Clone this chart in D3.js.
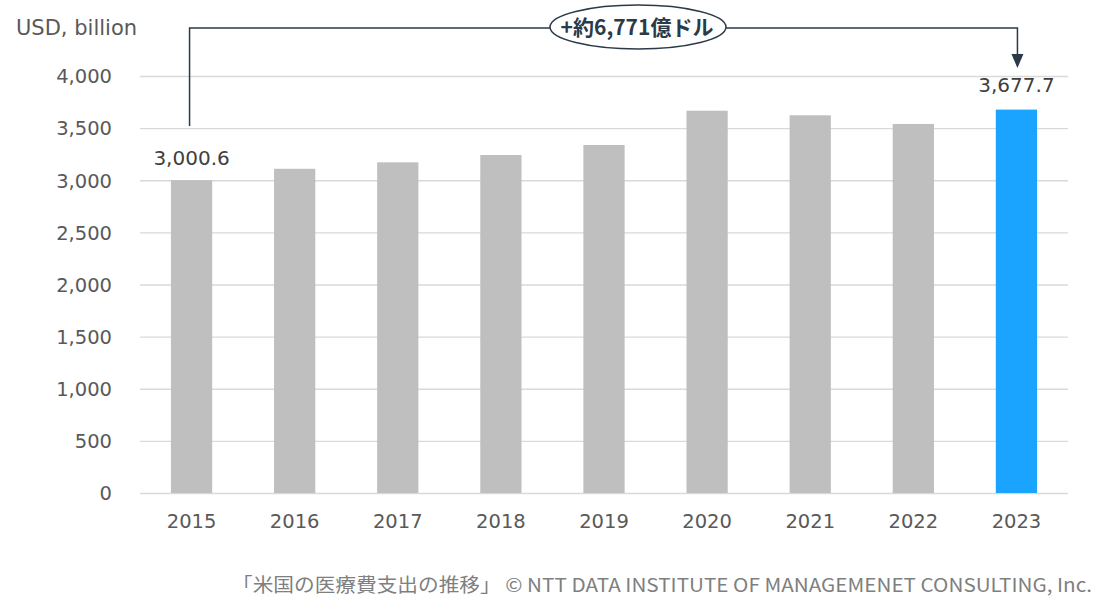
<!DOCTYPE html>
<html><head><meta charset="utf-8">
<script src="https://cdn.jsdelivr.net/npm/d3@7"></script>
<style>body{margin:0;background:#fff}svg{display:block}</style>
</head><body>
<svg id="c" width="1104" height="608"></svg>
<script>
const categories = ["2015","2016","2017","2018","2019","2020","2021","2022","2023"];
const values = [3000.6, 3110, 3172, 3242, 3338, 3667, 3623, 3540, 3677.7];
const yTicks = [0,500,1000,1500,2000,2500,3000,3500,4000];
const unitLabel = "USD, billion";
const calloutText = "+約6,771億ドル";
const footerText = "「米国の医療費支出の推移」 © NTT DATA INSTITUTE OF MANAGEMENET CONSULTING, Inc.";

const svg = d3.select("#c");
const font = "'DejaVu Sans', Verdana, sans-serif";
const x = d3.scaleBand().domain(categories).range([140,1068]).paddingInner(0.6).paddingOuter(0.3);
const y = d3.scaleLinear().domain([0,4000]).range([493,76]);

// grid
svg.append("g").selectAll("line").data(yTicks).join("line")
  .attr("x1",140).attr("x2",1068).attr("y1",d=>y(d)+0.5).attr("y2",d=>y(d)+0.5)
  .attr("stroke","#d9d9d9").attr("stroke-width",1.3);

// y labels
const yAxis = d3.axisLeft(y).tickValues(yTicks).tickFormat(d3.format(",")).tickSize(0).tickPadding(0);
const ga = svg.append("g").attr("transform","translate(112,0)").call(yAxis);
ga.select(".domain").remove();
ga.selectAll("text").attr("font-family",font).attr("font-size",19.5).attr("fill","#595959").attr("dy","0.35em");

// x labels
const xAxis = d3.axisBottom(x).tickSize(0).tickPadding(0);
const gx = svg.append("g").attr("transform","translate(0,521)").call(xAxis);
gx.select(".domain").remove();
gx.selectAll("text").attr("font-family",font).attr("font-size",19.5).attr("fill","#595959").attr("dy","0.35em");

// bars
svg.append("g").selectAll("rect").data(values).join("rect")
  .attr("x",(d,i)=>x(categories[i])).attr("width",x.bandwidth())
  .attr("y",d=>y(d)).attr("height",d=>y(0)-y(d))
  .attr("fill",(d,i)=>i===values.length-1?"#1aa3ff":"#bfbfbf");

// value labels
const fmt = d3.format(",.1f");
[0, values.length-1].forEach(i=>{
  svg.append("text").attr("x",x(categories[i])+x.bandwidth()/2)
    .attr("y",y(values[i])-(i===0?15:18)).attr("text-anchor","middle")
    .attr("font-family",font).attr("font-size",20).attr("fill","#404040")
    .text(fmt(values[i]));
});

// unit label
svg.append("text").attr("x",16).attr("y",35).attr("font-family",font).attr("font-size",21)
  .attr("fill","#595959").text(unitLabel);

// callout bracket
const x0 = x(categories[0])+x.bandwidth()/2 - 2;
const x1 = x(categories[categories.length-1])+x.bandwidth()/2 + 1;
const topY = 28;
svg.append("path")
  .attr("d",`M${x0},${y(3520)} V${topY} H${x1} V56`)
  .attr("fill","none").attr("stroke","#2b3a48").attr("stroke-width",1.5);
svg.append("path")
  .attr("d",`M${x1-6},54 L${x1+6},54 L${x1},68 Z`).attr("fill","#2b3a48");
svg.append("ellipse").attr("cx",638).attr("cy",27).attr("rx",88).attr("ry",22)
  .attr("fill","#fff").attr("stroke","#2b3a48").attr("stroke-width",1.5);
svg.append("text").attr("x",637).attr("y",27).attr("dy","0.36em").attr("text-anchor","middle")
  .attr("font-family","'Noto Sans CJK JP', sans-serif").attr("font-weight","bold").attr("font-size",21)
  .attr("fill","#2b3a48").text(calloutText);

// footer
svg.append("text").attr("x",1092).attr("y",592).attr("text-anchor","end")
  .attr("font-family","'Noto Sans CJK JP', sans-serif").attr("font-size",19).attr("fill","#7f7f7f")
  .attr("textLength",860).attr("lengthAdjust","spacingAndGlyphs")
  .text(footerText);
</script>
</body></html>
